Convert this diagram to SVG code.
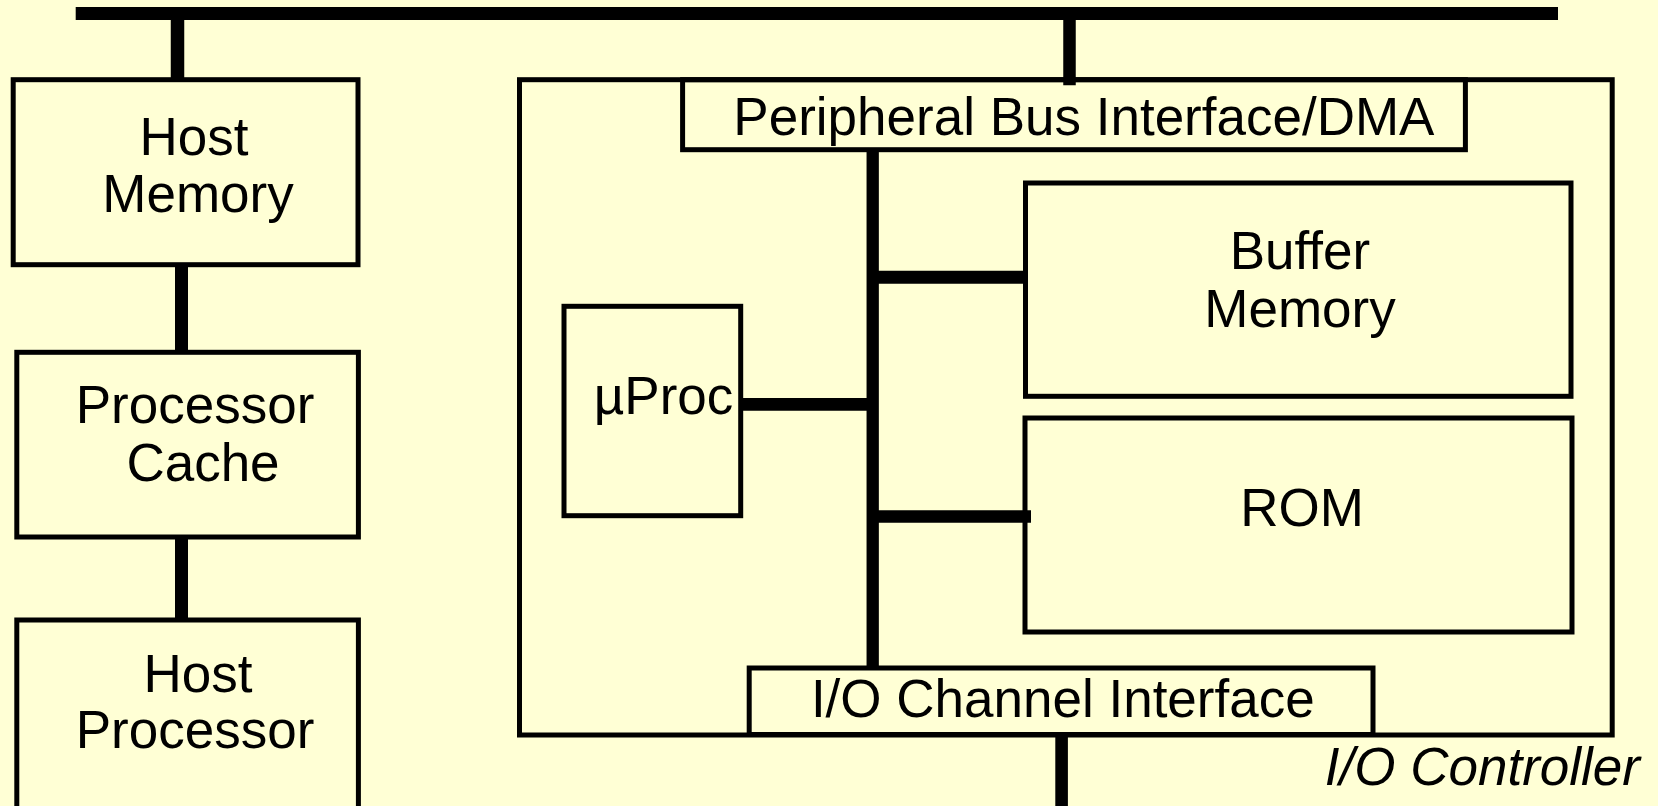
<svg xmlns="http://www.w3.org/2000/svg" width="1658" height="806" viewBox="0 0 1658 806">
<style>
.box{fill:none;stroke:#000;stroke-width:5}
.bus{stroke:#000;stroke-linecap:butt;fill:none}
.t{font-family:"Liberation Sans",Arial,Helvetica,sans-serif;font-size:53px;fill:#000}
.m{text-anchor:middle}
</style>
<rect x="0" y="0" width="1658" height="806" fill="#FFFFD5"/>
<g id="connectors">
<line class="bus" x1="75.7" y1="13.5" x2="1558" y2="13.5" stroke-width="13"/>
<line class="bus" x1="177.5" y1="20" x2="177.5" y2="80" stroke-width="13.5"/>
<line class="bus" x1="181.5" y1="265" x2="181.5" y2="352" stroke-width="13"/>
<line class="bus" x1="181.5" y1="537" x2="181.5" y2="620" stroke-width="13"/>
<line class="bus" x1="1069.5" y1="20" x2="1069.5" y2="85.3" stroke-width="12.5"/>
<line class="bus" x1="872.7" y1="150" x2="872.7" y2="668" stroke-width="12.3"/>
<line class="bus" x1="743" y1="404.3" x2="872.7" y2="404.3" stroke-width="12.7"/>
<line class="bus" x1="872.7" y1="277.3" x2="1025.5" y2="277.3" stroke-width="13"/>
<line class="bus" x1="872.7" y1="516.5" x2="1031" y2="516.5" stroke-width="12.7"/>
<line class="bus" x1="1061.6" y1="735" x2="1061.6" y2="806" stroke-width="12.6"/>
</g>
<g id="io-controller">
<rect class="box" x="519.5" y="79.7" width="1092.7" height="655.3"/>
<text class="t" x="1640" y="785" text-anchor="end" font-style="italic">I/O Controller</text>
</g>
<g id="host-memory">
<rect class="box" x="13.2" y="79.7" width="344.8" height="185"/>
<text class="t m" x="194" y="155">Host</text>
<text class="t m" x="198" y="212">Memory</text>
</g>
<g id="processor-cache">
<rect class="box" x="16.8" y="352.3" width="341.6" height="184.7"/>
<text class="t m" x="195" y="422.7">Processor</text>
<text class="t m" x="203" y="481">Cache</text>
</g>
<g id="host-processor">
<rect class="box" x="16.8" y="620" width="341.6" height="200"/>
<text class="t m" x="198" y="691.7">Host</text>
<text class="t m" x="195" y="748.3">Processor</text>
</g>
<g id="peripheral-bus-interface">
<rect class="box" x="682.6" y="79.7" width="782.8" height="70"/>
<text class="t m" x="1083.9" y="135">Peripheral Bus Interface/DMA</text>
</g>
<g id="buffer-memory">
<rect class="box" x="1025.5" y="183" width="545.5" height="213.3"/>
<text class="t m" x="1300" y="269.3">Buffer</text>
<text class="t m" x="1300" y="326.5">Memory</text>
</g>
<g id="rom">
<rect class="box" x="1025" y="418" width="547" height="214"/>
<text class="t m" x="1302" y="525.7">ROM</text>
</g>
<g id="uproc">
<rect class="box" x="564" y="306.3" width="176.7" height="209.4"/>
<text class="t" x="593.8" y="414">µProc</text>
</g>
<g id="io-channel-interface">
<rect class="box" x="749.2" y="668" width="623.8" height="66.5"/>
<text class="t m" x="1062.8" y="716.7">I/O Channel Interface</text>
</g>
</svg>
